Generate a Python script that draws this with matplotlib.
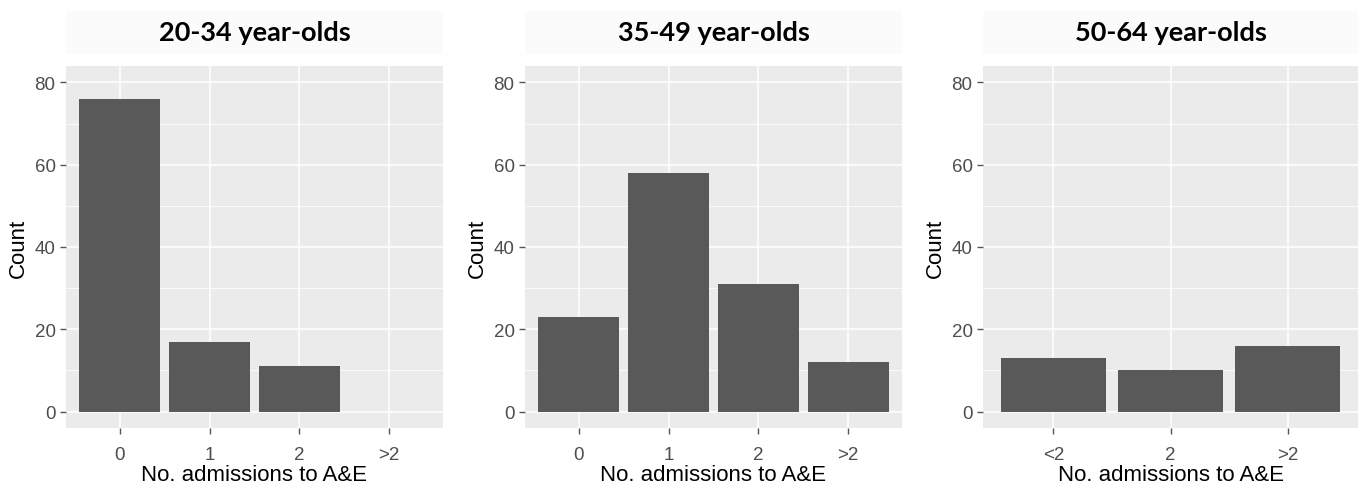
import numpy as np
import matplotlib
matplotlib.use("Agg")
import matplotlib.pyplot as plt
from matplotlib.patches import Rectangle

# data
titles = ["20-34 year-olds", "35-49 year-olds", "50-64 year-olds"]
cats_young = ["0", "1", "2", ">2"]
counts_young = [76, 17, 11, 0]
cats_mid = ["0", "1", "2", ">2"]
counts_mid = [23, 58, 31, 12]
cats_old = ["<2", "2", ">2"]
counts_old = [13, 10, 16]

W, H = 1359, 489
fig = plt.figure(figsize=(W / 100, H / 100), dpi=100)
fig.patch.set_facecolor("white")

# axes boxes in pixels: left, right, top, bottom
boxes = [(66, 443, 67, 429), (525, 902, 67, 429), (983, 1358, 67, 429)]
panels = [(cats_young, counts_young), (cats_mid, counts_mid), (cats_old, counts_old)]

tick_font = "Liberation Sans"

for (l, r, t, b), (cats, counts), title in zip(boxes, panels, titles):
    ax = fig.add_axes([l / W, (H - b) / H, (r - l) / W, (b - t) / H])
    ax.set_facecolor("#EBEBEB")
    x = np.arange(1, len(cats) + 1)
    ax.bar(x, counts, width=0.9, color="#595959", zorder=3)
    ax.set_xlim(0.4, len(cats) + 0.6)
    ax.set_ylim(-4, 84)
    ax.set_xticks(x)
    ax.set_xticklabels(cats)
    ax.set_yticks([0, 20, 40, 60, 80])
    ax.set_yticks([10, 30, 50, 70], minor=True)
    ax.grid(which="major", color="white", linewidth=1.1, zorder=1)
    ax.grid(which="minor", axis="y", color="white", linewidth=0.55, zorder=1)
    for s in ax.spines.values():
        s.set_visible(False)
    ax.tick_params(which="major", length=4, width=1, color="#555555",
                   labelcolor="#4D4D4D", labelsize=13.5)
    ax.tick_params(axis="x", pad=9)
    ax.tick_params(axis="y", pad=3.5)
    ax.tick_params(which="minor", length=0)
    for lab in ax.get_xticklabels() + ax.get_yticklabels():
        lab.set_fontfamily(tick_font)
    ax.set_xlabel("No. admissions to A&E", fontsize=16, family=tick_font,
                  color="black", labelpad=1)
    ax.set_ylabel("Count", fontsize=16, family=tick_font, color="black", labelpad=4)

    # title strip above each panel
    fig.patches.append(Rectangle((l / W, (H - 55) / H), (r - l) / W, 43 / H,
                                 transform=fig.transFigure, facecolor="#FBFBFB",
                                 edgecolor="none", zorder=0))
    fig.text((l + r) / 2 / W, (H - 33) / H, title, ha="center", va="center",
             fontsize=19.5, fontweight="bold", family="Lato", color="black")

fig.savefig("out.png", dpi=100)
